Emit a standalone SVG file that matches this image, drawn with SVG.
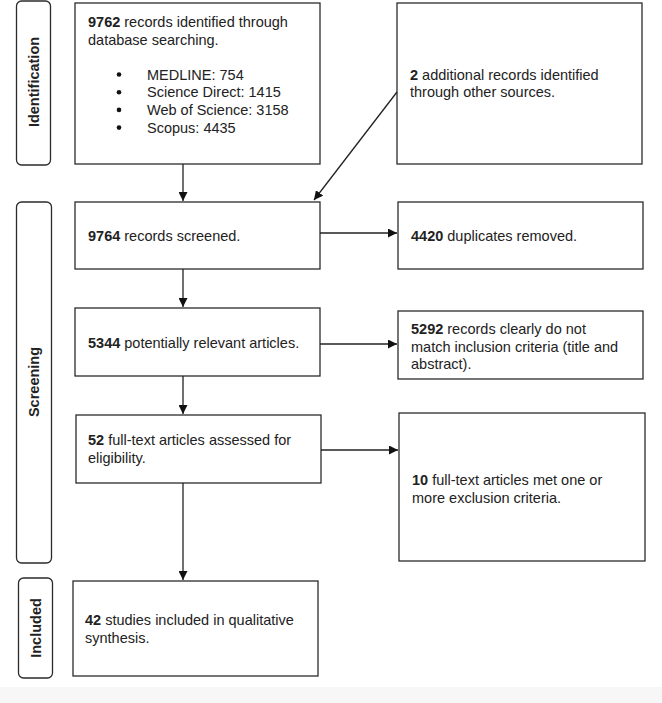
<svg xmlns="http://www.w3.org/2000/svg" width="662" height="703" viewBox="0 0 662 703">
<defs>
<style>
.box{fill:#fff;stroke:#2b2b2b;stroke-width:1.3}
.side{fill:#fff;stroke:#2b2b2b;stroke-width:1.3}
.t{font-family:"Liberation Sans",Arial,sans-serif;font-size:14.5px;fill:#222}
.b{font-weight:bold}
.lab{font-family:"Liberation Sans",Arial,sans-serif;font-size:14.5px;font-weight:bold;fill:#222;text-anchor:middle;dominant-baseline:central}
.c{stroke:#222;stroke-width:1.3;fill:none;marker-end:url(#ah)}
</style>
<marker id="ah" viewBox="0 0 10 10" refX="10" refY="5" markerUnits="userSpaceOnUse" markerWidth="9" markerHeight="9" orient="auto">
<path d="M0,0 L10,5 L0,10 z" fill="#111"/>
</marker>
</defs>
<rect x="0" y="0" width="662" height="703" fill="#fff"/>
<rect x="0" y="687" width="662" height="16" fill="#f7f7f7"/>

<g id="phase-identification">
<rect class="side" x="16.5" y="1" width="34" height="164" rx="5"/>
<text class="lab" transform="translate(33.5,82) rotate(-90)">Identification</text>
</g>
<g id="phase-screening">
<rect class="side" x="16.5" y="202" width="35" height="361" rx="5"/>
<text class="lab" transform="translate(34,382) rotate(-90)">Screening</text>
</g>
<g id="phase-included">
<rect class="side" x="18.5" y="578" width="34" height="100" rx="5"/>
<text class="lab" transform="translate(35.5,628) rotate(-90)">Included</text>
</g>

<g id="n-db">
<rect class="box" x="75" y="3" width="245" height="161"/>
<text class="t" x="88" y="27"><tspan class="b">9762</tspan> records identified through</text>
<text class="t" x="88" y="44.5">database searching.</text>
<g fill="#111"><circle cx="119" cy="74.5" r="2.3"/><circle cx="119" cy="92.2" r="2.3"/><circle cx="119" cy="109.9" r="2.3"/><circle cx="119" cy="127.6" r="2.3"/></g>
<text class="t" x="147" y="79.5">MEDLINE: 754</text>
<text class="t" x="147" y="97.2">Science Direct: 1415</text>
<text class="t" x="147" y="114.9">Web of Science: 3158</text>
<text class="t" x="147" y="132.6">Scopus: 4435</text>
</g>
<g id="n-other">
<rect class="box" x="397" y="3" width="245" height="161"/>
<text class="t" x="410" y="79.5"><tspan class="b">2</tspan> additional records identified</text>
<text class="t" x="410" y="97">through other sources.</text>
</g>
<g id="n-screened">
<rect class="box" x="75" y="202" width="245" height="67"/>
<text class="t" x="88" y="241"><tspan class="b">9764</tspan> records screened.</text>
</g>
<g id="n-dup">
<rect class="box" x="398" y="202" width="245" height="67"/>
<text class="t" x="411" y="241"><tspan class="b">4420</tspan> duplicates removed.</text>
</g>
<g id="n-relevant">
<rect class="box" x="75" y="308" width="245" height="68"/>
<text class="t" x="88" y="348"><tspan class="b">5344</tspan> potentially relevant articles.</text>
</g>
<g id="n-excl1">
<rect class="box" x="398" y="311" width="245" height="68"/>
<text class="t" x="411" y="334"><tspan class="b">5292</tspan> records clearly do not</text>
<text class="t" x="411" y="351.5">match inclusion criteria (title and</text>
<text class="t" x="411" y="369">abstract).</text>
</g>
<g id="n-fulltext">
<rect class="box" x="76" y="415" width="245" height="68"/>
<text class="t" x="88" y="445"><tspan class="b">52</tspan> full-text articles assessed for</text>
<text class="t" x="88" y="462.5">eligibility.</text>
</g>
<g id="n-excl2">
<rect class="box" x="399" y="413" width="246" height="148"/>
<text class="t" x="412" y="485"><tspan class="b">10</tspan> full-text articles met one or</text>
<text class="t" x="412" y="502.5">more exclusion criteria.</text>
</g>
<g id="n-included">
<rect class="box" x="73" y="581" width="245" height="95"/>
<text class="t" x="85" y="625"><tspan class="b">42</tspan> studies included in qualitative</text>
<text class="t" x="85" y="642.5">synthesis.</text>
</g>

<g id="connectors">
<line class="c" x1="183" y1="164" x2="183" y2="201"/>
<line class="c" x1="397" y1="92" x2="314" y2="200"/>
<line class="c" x1="320" y1="233" x2="397" y2="233"/>
<line class="c" x1="183" y1="269" x2="183" y2="307"/>
<line class="c" x1="320" y1="344" x2="397" y2="344"/>
<line class="c" x1="183" y1="376" x2="183" y2="414"/>
<line class="c" x1="321" y1="450" x2="398" y2="450"/>
<line class="c" x1="183" y1="483" x2="183" y2="580"/>
</g>
</svg>
